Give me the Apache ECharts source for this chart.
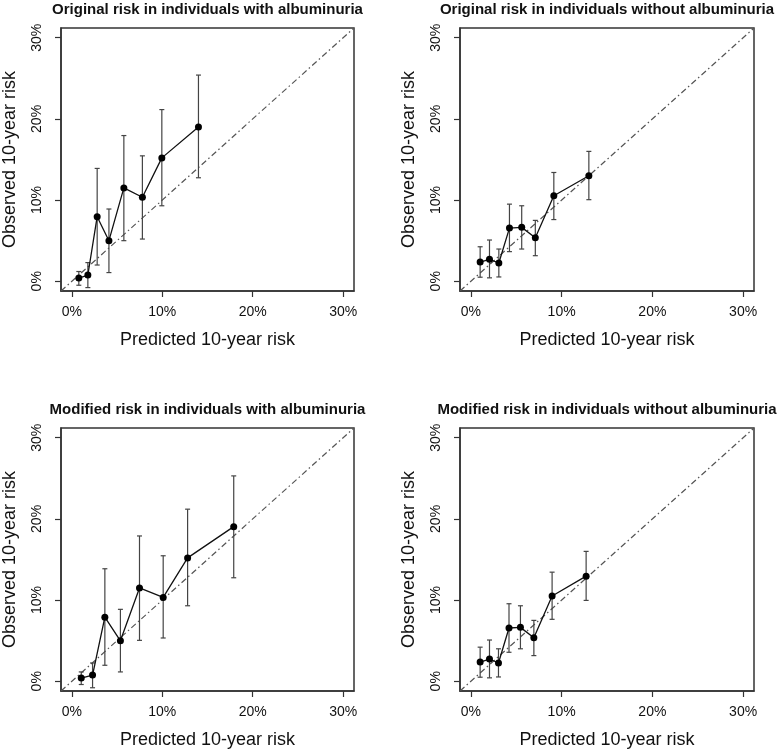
<!DOCTYPE html>
<html>
<head>
<meta charset="utf-8">
<script src="https://cdn.jsdelivr.net/npm/echarts@6/dist/echarts.min.js"></script>
<style>
  html, body { margin: 0; padding: 0; background: #fff; }
  #chart { width: 777px; height: 754px; }
</style>
</head>
<body>
<div id="chart"></div>
<script>
// ---- Data (percent) ----
const titles = [
  'Original risk in individuals with albuminuria',
  'Original risk in individuals without albuminuria',
  'Modified risk in individuals with albuminuria',
  'Modified risk in individuals without albuminuria'
];
const xAxisTitle = 'Predicted 10-year risk';
const yAxisTitle = 'Observed 10-year risk';
const tickValues = [0, 10, 20, 30];
const axisRange = [-1.2, 31.2];

// Panel 1: original, with albuminuria
const pred1 = [0.77, 1.77, 2.8, 4.1, 5.75, 7.8, 9.95, 14.0];
const obs1  = [0.4, 0.77, 7.95, 5.0, 11.5, 10.35, 15.2, 19.0];
const lo1   = [-0.49, -0.78, 2.0, 1.07, 5.0, 5.2, 9.3, 12.75];
const hi1   = [1.2, 2.3, 13.9, 8.9, 17.95, 15.45, 21.15, 25.4];

// Panel 2: original, without albuminuria
const pred2 = [1.02, 2.05, 3.08, 4.25, 5.6, 7.1, 9.14, 13.0];
const obs2  = [2.37, 2.7, 2.25, 6.55, 6.64, 5.35, 10.54, 13.0];
const lo2   = [0.5, 0.42, 0.53, 3.65, 3.97, 3.15, 7.6, 10.05];
const hi2   = [4.25, 5.08, 3.97, 9.5, 9.3, 7.5, 13.4, 16.0];

// Panel 3: modified, with albuminuria
const pred3 = [1.04, 2.29, 3.65, 5.37, 7.48, 10.1, 12.8, 17.9];
const obs3  = [0.4, 0.76, 7.9, 4.98, 11.5, 10.33, 15.2, 19.05];
const lo3   = [-0.4, -0.8, 1.97, 1.15, 5.04, 5.33, 9.3, 12.75];
const hi3   = [1.15, 2.25, 13.86, 8.86, 17.9, 15.46, 21.2, 25.3];

// Panel 4: modified, without albuminuria
const pred4 = [1.02, 2.05, 3.04, 4.2, 5.46, 6.94, 8.95, 12.7];
const obs4  = [2.37, 2.74, 2.25, 6.56, 6.64, 5.37, 10.5, 12.95];
const lo4   = [0.5, 0.42, 0.53, 3.57, 4.0, 3.16, 7.63, 9.96];
const hi4   = [4.2, 5.08, 4.0, 9.55, 9.3, 7.5, 13.44, 16.0];

const panels = [
  { pred: pred1, obs: obs1, lo: lo1, hi: hi1 },
  { pred: pred2, obs: obs2, lo: lo2, hi: hi2 },
  { pred: pred3, obs: obs3, lo: lo3, hi: hi3 },
  { pred: pred4, obs: obs4, lo: lo4, hi: hi4 }
];

// ---- Layout ----
const FONT = '"Liberation Sans", Arial, Helvetica, sans-serif';
const grids = [
  { left: 61,  top: 28,  width: 293, height: 263 },
  { left: 460, top: 28,  width: 294, height: 263 },
  { left: 61,  top: 428, width: 293, height: 263 },
  { left: 460, top: 428, width: 294, height: 263 }
];

const option = {
  backgroundColor: '#ffffff',
  animation: false,
  title: [],
  grid: [],
  xAxis: [],
  yAxis: [],
  series: []
};

grids.forEach((g, i) => {
  option.grid.push({
    left: g.left, top: g.top, width: g.width, height: g.height,
    show: true, borderColor: '#333', borderWidth: 1.5, backgroundColor: 'transparent'
  });
  option.title.push({
    text: titles[i],
    left: g.left + g.width / 2,
    top: g.top - 26,
    textAlign: 'center',
    padding: 0,
    textStyle: { fontFamily: FONT, fontSize: 15, fontWeight: 'bold', color: '#111' }
  });
  const axisCommon = {
    type: 'value',
    gridIndex: i,
    min: axisRange[0],
    max: axisRange[1],
    splitLine: { show: false },
    axisLine: { show: true, onZero: false, lineStyle: { color: '#333', width: 1.5 } },
    axisTick: {
      show: true, inside: false, length: 6,
      customValues: tickValues,
      lineStyle: { color: '#333', width: 1.2 }
    },
    axisLabel: {
      customValues: tickValues,
      formatter: '{value}%',
      fontFamily: FONT, fontSize: 14, color: '#111'
    },
    nameLocation: 'middle',
    nameTextStyle: { fontFamily: FONT, fontSize: 18, color: '#111' }
  };
  option.xAxis.push(Object.assign({}, axisCommon, {
    position: 'bottom',
    name: xAxisTitle,
    nameGap: 40,
    axisLabel: Object.assign({}, axisCommon.axisLabel, { margin: 14 })
  }));
  option.yAxis.push(Object.assign({}, axisCommon, {
    position: 'left',
    name: yAxisTitle,
    nameGap: 42,
    nameRotate: 90,
    axisLabel: Object.assign({}, axisCommon.axisLabel, { rotate: 90, margin: 17 })
  }));

  const p = panels[i];

  // identity line
  option.series.push({
    type: 'line',
    xAxisIndex: i, yAxisIndex: i,
    data: [[axisRange[0], axisRange[0]], [axisRange[1], axisRange[1]]],
    symbol: 'none',
    silent: true,
    lineStyle: { color: '#555', width: 1.2, type: [6, 3, 1.5, 3] },
    z: 1
  });

  // error bars
  option.series.push({
    type: 'custom',
    xAxisIndex: i, yAxisIndex: i,
    data: p.pred.map((x, k) => [x, p.lo[k], p.hi[k]]),
    encode: { x: 0, y: [1, 2] },
    silent: true,
    z: 2,
    renderItem: function (params, api) {
      const x = api.value(0);
      const a = api.coord([x, api.value(1)]);
      const b = api.coord([x, api.value(2)]);
      const hw = 2.5;
      const style = { stroke: '#444', lineWidth: 1.2 };
      return {
        type: 'group',
        children: [
          { type: 'line', shape: { x1: a[0], y1: a[1], x2: b[0], y2: b[1] }, style: style },
          { type: 'line', shape: { x1: a[0] - hw, y1: a[1], x2: a[0] + hw, y2: a[1] }, style: style },
          { type: 'line', shape: { x1: b[0] - hw, y1: b[1], x2: b[0] + hw, y2: b[1] }, style: style }
        ]
      };
    }
  });

  // observed vs predicted
  option.series.push({
    type: 'line',
    xAxisIndex: i, yAxisIndex: i,
    data: p.pred.map((x, k) => [x, p.obs[k]]),
    symbol: 'circle',
    symbolSize: 7,
    itemStyle: { color: '#000' },
    lineStyle: { color: '#111', width: 1.3 },
    z: 3
  });
});

const chart = echarts.init(document.getElementById('chart'), null, { renderer: 'canvas' });
chart.setOption(option);
</script>
</body>
</html>
